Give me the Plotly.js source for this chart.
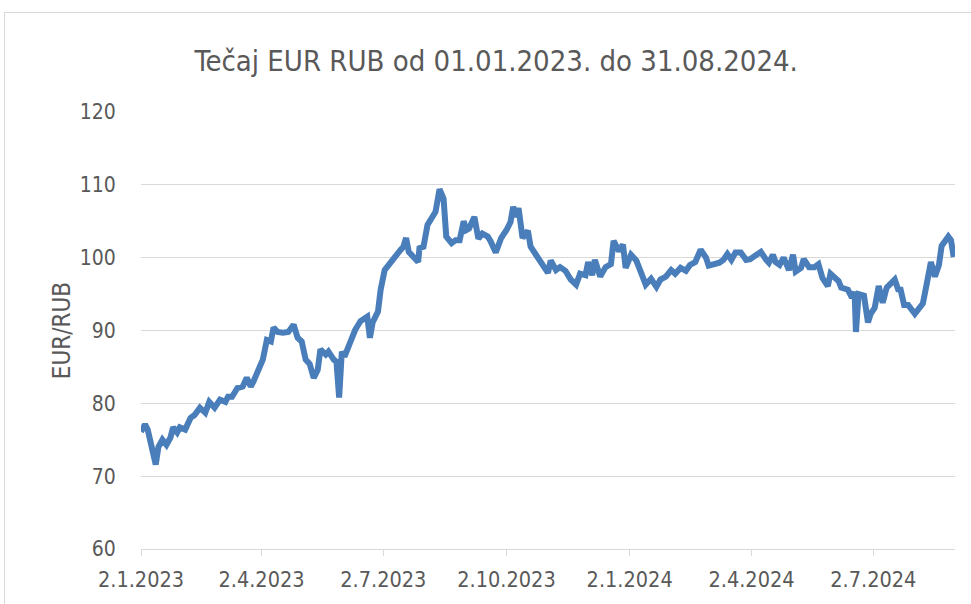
<!DOCTYPE html>
<html>
<head>
<meta charset="utf-8">
<script src="https://cdn.plot.ly/plotly-3.0.1.min.js"></script>
<style>
  html, body { margin: 0; padding: 0; background: #ffffff; }
  #wrap { position: relative; width: 971px; height: 604px; overflow: hidden; }
  #chart { position: absolute; left: 0; top: 0; width: 971px; height: 604px; }
  #frame { position: absolute; left: 4px; top: 12px; width: 990px; height: 620px;
           border: 1px solid #d9d9d9; pointer-events: none; box-sizing: border-box; }
</style>
</head>
<body>
<div id="wrap">
  <div id="chart"></div>
  <div id="frame"></div>
</div>
<script>
// EUR/RUB exchange rate readings
const dates = [
  "2023-01-02","2023-01-03","2023-01-05","2023-01-07","2023-01-10","2023-01-13","2023-01-15","2023-01-18",
  "2023-01-21","2023-01-24","2023-01-26","2023-01-29","2023-01-31","2023-02-04","2023-02-08","2023-02-11",
  "2023-02-15","2023-02-19","2023-02-22","2023-02-26","2023-03-02","2023-03-06","2023-03-08","2023-03-11",
  "2023-03-15","2023-03-19","2023-03-22","2023-03-25","2023-03-27","2023-03-31","2023-04-03","2023-04-06",
  "2023-04-09","2023-04-11","2023-04-14","2023-04-18","2023-04-22","2023-04-26","2023-04-29","2023-05-02",
  "2023-05-05","2023-05-08","2023-05-11","2023-05-14","2023-05-16","2023-05-20","2023-05-22","2023-05-26",
  "2023-05-28","2023-05-30","2023-06-01","2023-06-03","2023-06-07","2023-06-11","2023-06-15","2023-06-20",
  "2023-06-22","2023-06-24","2023-06-28","2023-06-30","2023-07-03","2023-07-06","2023-07-09","2023-07-12",
  "2023-07-15","2023-07-17","2023-07-19","2023-07-21","2023-07-24","2023-07-28","2023-07-29","2023-08-01",
  "2023-08-04","2023-08-08","2023-08-10","2023-08-13","2023-08-16","2023-08-18","2023-08-22","2023-08-25",
  "2023-08-28","2023-08-31","2023-09-02","2023-09-04","2023-09-08","2023-09-11","2023-09-14","2023-09-18",
  "2023-09-20","2023-09-24","2023-09-28","2023-10-02","2023-10-05","2023-10-07","2023-10-09","2023-10-11",
  "2023-10-14","2023-10-18","2023-10-20","2023-10-24","2023-10-28","2023-10-30","2023-11-02","2023-11-04",
  "2023-11-08","2023-11-11","2023-11-15","2023-11-19","2023-11-23","2023-11-26","2023-11-30","2023-12-02",
  "2023-12-05","2023-12-07","2023-12-11","2023-12-15","2023-12-19","2023-12-21","2023-12-25","2023-12-28",
  "2023-12-30","2024-01-03","2024-01-07","2024-01-10","2024-01-14","2024-01-18","2024-01-22","2024-01-25",
  "2024-01-29","2024-02-02","2024-02-05","2024-02-09","2024-02-13","2024-02-16","2024-02-20","2024-02-24",
  "2024-02-28","2024-03-01","2024-03-05","2024-03-09","2024-03-12","2024-03-15","2024-03-18","2024-03-21",
  "2024-03-25","2024-03-29","2024-04-01","2024-04-05","2024-04-09","2024-04-13","2024-04-15","2024-04-18",
  "2024-04-20","2024-04-23","2024-04-26","2024-04-30","2024-05-03","2024-05-05","2024-05-09","2024-05-11",
  "2024-05-15","2024-05-19","2024-05-22","2024-05-25","2024-05-29","2024-05-31","2024-06-06","2024-06-08",
  "2024-06-10","2024-06-13","2024-06-16","2024-06-18","2024-06-19","2024-06-21","2024-06-25","2024-06-28",
  "2024-06-30","2024-07-03","2024-07-06","2024-07-09","2024-07-12","2024-07-15","2024-07-18","2024-07-21",
  "2024-07-22","2024-07-25","2024-07-28","2024-08-02","2024-08-06","2024-08-08","2024-08-11","2024-08-14",
  "2024-08-17","2024-08-20","2024-08-22","2024-08-25","2024-08-27","2024-08-29","2024-08-30","2024-08-31"
];
const rates = [
  76.1,76.4,77.1,76.4,74.3,71.6,74.0,75.0,
  74.3,75.3,76.7,76.0,76.7,76.4,78.0,78.4,
  79.4,78.7,80.2,79.4,80.5,80.2,80.9,80.9,
  82.1,82.3,83.5,82.3,83.0,84.6,86.0,88.7,
  88.5,90.4,89.8,89.7,89.8,90.8,89.0,88.5,
  86.0,85.4,83.5,84.6,87.4,86.7,87.1,86.0,
  85.7,80.8,87.1,86.4,88.3,90.1,91.3,91.9,
  89.0,91.1,92.6,95.6,98.3,99.0,99.7,100.7,
  101.1,101.5,102.7,100.8,100.1,99.4,101.3,101.5,
  104.5,105.9,106.3,109.4,108.1,102.9,102.0,102.4,
  102.4,105.0,103.8,104.0,105.6,102.6,103.3,102.9,
  102.3,100.7,102.7,103.8,104.9,107.0,105.6,106.8,
  102.7,103.7,101.5,100.4,99.3,98.6,97.9,99.6,
  98.3,98.7,98.2,97.0,96.3,97.8,97.6,99.4,
  97.6,99.7,97.4,98.7,99.1,102.3,100.9,101.8,
  98.6,100.4,99.6,98.2,96.3,97.1,96.0,97.0,
  97.4,98.3,97.8,98.6,98.2,99.0,99.4,101.1,
  100.0,98.9,99.0,99.3,99.7,100.5,99.7,100.7,
  100.7,99.7,99.8,100.4,100.8,99.7,99.3,100.4,
  99.4,99.0,100.0,98.3,100.4,98.1,98.6,99.8,
  98.7,98.7,99.1,97.2,96.1,97.8,96.8,95.9,
  95.7,95.6,94.5,95.3,89.8,95.0,94.8,91.1,
  92.3,93.1,96.1,93.8,95.9,96.4,97.0,95.4,
  95.9,93.5,93.5,92.3,93.4,93.7,96.5,99.4,
  97.4,99.0,101.6,102.4,102.9,102.4,101.3,100.1
];
const tickDates  = ["2023-01-02","2023-04-02","2023-07-02","2023-10-02","2024-01-02","2024-04-02","2024-07-02"];
const tickLabels = ["2.1.2023","2.4.2023","2.7.2023","2.10.2023","2.1.2024","2.4.2024","2.7.2024"];
const yTicks = [60,70,80,90,100,110,120];

const FONT = '"DejaVu Sans Condensed", "Liberation Sans Narrow", "Liberation Sans", sans-serif';
const GREY = '#595959';

const trace = {
  x: dates, y: rates, type: 'scatter', mode: 'lines',
  line: { color: '#4A7EBB', width: 6, shape: 'linear' },
  hoverinfo: 'x+y'
};

const layout = {
  width: 971, height: 604,
  margin: { l: 141, r: 16, t: 112, b: 55 },
  paper_bgcolor: 'rgba(0,0,0,0)', plot_bgcolor: '#ffffff',
  showlegend: false,
  title: {
    text: 'Tečaj EUR RUB od 01.01.2023. do 31.08.2024.',
    font: { family: FONT, size: 29, color: GREY },
    xref: 'container', yref: 'container', x: 0.511, y: 0.9, xanchor: 'center', yanchor: 'middle'
  },
  xaxis: {
    type: 'date',
    range: ['2023-01-02', '2024-09-01'],
    tickmode: 'array', tickvals: tickDates, ticktext: tickLabels,
    showgrid: false, zeroline: false,
    showline: true, linecolor: '#d9d9d9', linewidth: 1,
    ticks: 'outside', ticklen: 6, tickcolor: '#d9d9d9', tickwidth: 1,
    tickfont: { family: FONT, size: 21.5, color: GREY },
    ticklabelstandoff: 5
  },
  yaxis: {
    range: [60, 120],
    tickmode: 'array', tickvals: yTicks,
    showgrid: true, gridcolor: '#d9d9d9', gridwidth: 1,
    zeroline: false, showline: false,
    ticks: 'outside', ticklen: 20, tickcolor: 'rgba(0,0,0,0)',
    tickfont: { family: FONT, size: 21, color: GREY },
    title: { text: 'EUR/RUB', font: { family: FONT, size: 24, color: GREY }, standoff: 2 }
  }
};

Plotly.newPlot('chart', [trace], layout, { displayModeBar: false, staticPlot: false });
</script>
</body>
</html>
